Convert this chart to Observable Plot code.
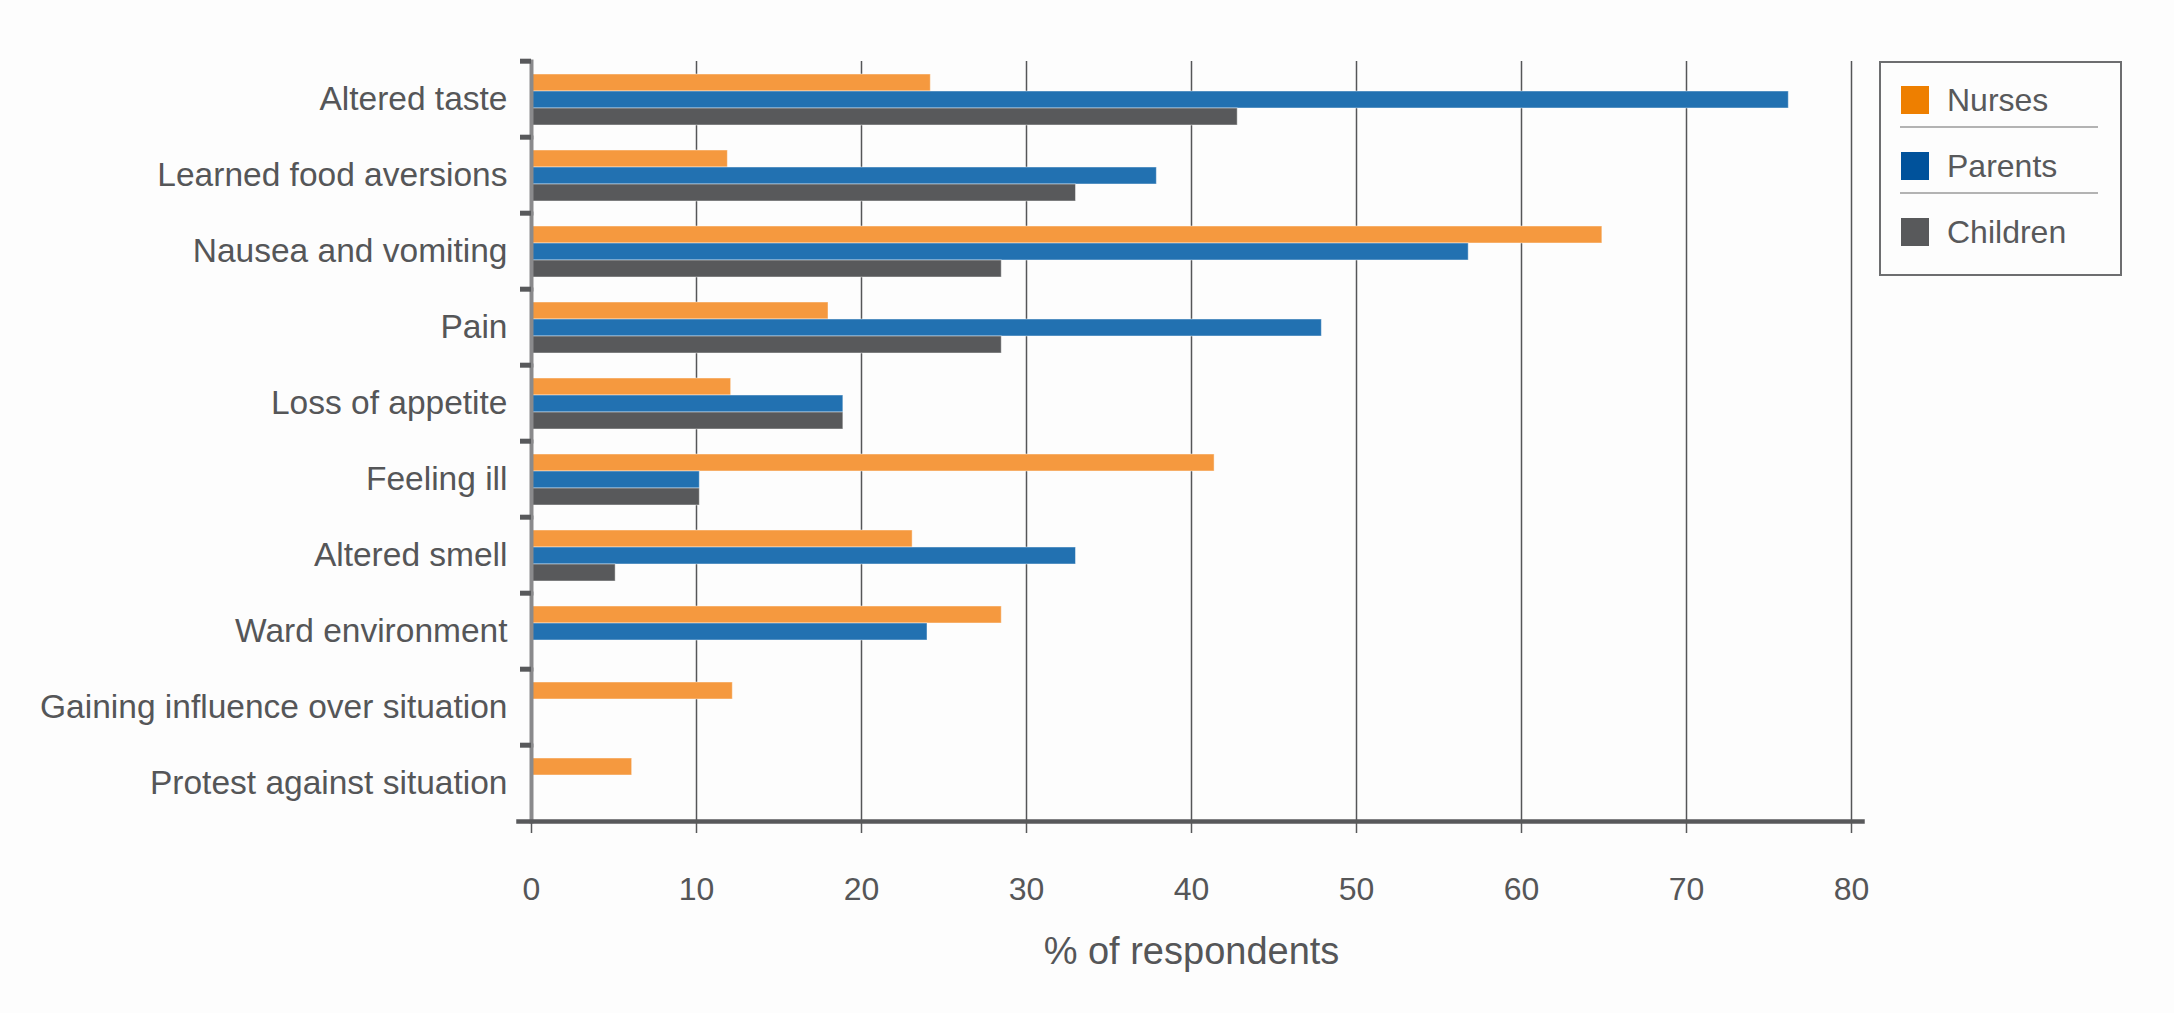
<!DOCTYPE html>
<html>
<head>
<meta charset="utf-8">
<script src="https://cdn.jsdelivr.net/npm/d3@7"></script>
<script src="https://cdn.jsdelivr.net/npm/@observablehq/plot@0.6"></script>
<style>
  html, body { margin: 0; padding: 0; background: #fdfdfd; }
  body { font-family: "Liberation Sans", Arial, Helvetica, sans-serif; color: #58595b; }
  #wrap { position: relative; width: 2174px; height: 1013px; overflow: hidden; }
  #legend { position: absolute; left: 1879px; top: 61px; width: 239px; height: 211px; border: 2px solid #6d6e70; }
  .sw { position: absolute; width: 28px; height: 28px; }
  .lt { position: absolute; font-size: 32px; line-height: 32px; color: #58595b; }
  .sep { position: absolute; height: 0; border-top: 2px solid #b3b3b3; }
</style>
</head>
<body>
<div id="wrap"><div id="legend"></div></div>
<script>
const categories = [
  "Altered taste",
  "Learned food aversions",
  "Nausea and vomiting",
  "Pain",
  "Loss of appetite",
  "Feeling ill",
  "Altered smell",
  "Ward environment",
  "Gaining influence over situation",
  "Protest against situation"
];
const series = ["Nurses", "Parents", "Children"];
const nurses   = [24.2, 11.9, 64.9, 18.0, 12.1, 41.4, 23.1, 28.5, 12.2, 6.1];
const parents  = [76.2, 37.9, 56.8, 47.9, 18.9, 10.2, 33.0, 24.0, null, null];
const children = [42.8, 33.0, 28.5, 28.5, 18.9, 10.2, 5.1, null, null, null];
const xTicks = [0, 10, 20, 30, 40, 50, 60, 70, 80];
const barColors = ["#f5993f", "#2271b1", "#58595b"];
const legendColors = ["#ee7f00", "#00529b", "#58595b"];

const seriesValues = [nurses, parents, children];
const data = [];
categories.forEach((c, i) => {
  seriesValues.forEach((arr, j) => {
    if (arr[i] != null) data.push({category: c, series: series[j], value: arr[i]});
  });
});

const W = 2174, H = 1013, mt = 58, mb = 189;
const bandHalf = (H - mt - mb) / categories.length / 2;

const chart = Plot.plot({
  width: W,
  height: H,
  marginLeft: 531,
  marginRight: 323,
  marginTop: mt,
  marginBottom: mb,
  style: {background: "#fdfdfd", color: "#555658", fontFamily: "'Liberation Sans', Arial, sans-serif", fontSize: "32px"},
  x: {domain: [0, 80], ticks: xTicks},
  fy: {domain: categories, padding: 0},
  y: {domain: series, paddingInner: 0, paddingOuter: 0.62, axis: null},
  color: {domain: series, range: barColors},
  marks: [
    Plot.gridX({ticks: xTicks.slice(1), stroke: "#555658", strokeOpacity: 1, strokeWidth: 1.5}),
    Plot.barX(data, {x: "value", y: "series", fy: "category", fill: "series", stroke: "#ffffff", strokeOpacity: 0.45, strokeWidth: 1}),
    Plot.frame({anchor: "left", stroke: "#8a8a8c", strokeWidth: 4}),
    Plot.frame({anchor: "bottom", facet: "super", stroke: "#58595b", strokeWidth: 4.5, insetLeft: -13, insetRight: -11}),
    Plot.axisFy({anchor: "left", tickSize: 0, tickPadding: 24, fontSize: 33.5, label: null}),
    Plot.axisFy({anchor: "left", text: null, tickSize: 11, dy: -bandHalf, stroke: "#58595b", strokeWidth: 5, label: null}),
    Plot.axisX({ticks: xTicks, tickSize: 12, tickPadding: 44, fontSize: 32, stroke: "#58595b", strokeWidth: 1.5,
      label: null}),
    Plot.axisX({ticks: [], tickSize: 0, fontSize: 38,
      label: "% of respondents", labelAnchor: "center", labelArrow: "none", labelOffset: 142})
  ]
});
document.getElementById("wrap").prepend(chart);

// legend
const legend = document.getElementById("legend");
series.forEach((s, i) => {
  const sw = document.createElement("div");
  sw.className = "sw";
  sw.style.left = "20px";
  sw.style.top = (23 + i * 66) + "px";
  sw.style.background = legendColors[i];
  legend.appendChild(sw);
  const t = document.createElement("div");
  t.className = "lt";
  t.style.left = "66px";
  t.style.top = (21 + i * 66) + "px";
  t.textContent = s;
  legend.appendChild(t);
  if (i < series.length - 1) {
    const sep = document.createElement("div");
    sep.className = "sep";
    sep.style.left = "19px";
    sep.style.width = "198px";
    sep.style.top = (63 + i * 66) + "px";
    legend.appendChild(sep);
  }
});
</script>
</body>
</html>
